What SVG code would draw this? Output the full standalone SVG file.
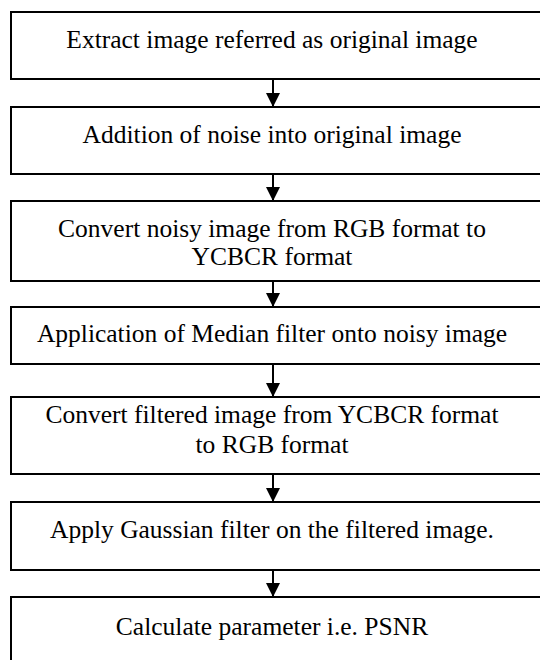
<svg xmlns="http://www.w3.org/2000/svg" width="540" height="660" viewBox="0 0 540 660">
  <style>
    .box { fill: #ffffff; stroke: #000000; stroke-width: 2; }
    .lbl { font-size: 25.5px; fill: #000000; text-anchor: middle; }
    .link { stroke: #000000; stroke-width: 2; fill: none; }
  </style>
  <defs>
    <marker id="head" markerUnits="userSpaceOnUse" markerWidth="14" markerHeight="16" refX="13" refY="7" orient="auto">
      <path d="M0,0 L14,7 L0,14 z" fill="#000000"/>
    </marker>
  </defs>
  <rect width="540" height="660" fill="#ffffff"/>

  <g font-family="Liberation Serif, Times New Roman, Times, serif">
    <g id="step1">
      <rect class="box" x="11" y="12" width="540" height="67"/>
      <text class="lbl" x="272" y="48">Extract image referred as original image</text>
    </g>
    <g id="step2">
      <rect class="box" x="11" y="107" width="540" height="67"/>
      <text class="lbl" x="272" y="143">Addition of noise into original image</text>
    </g>
    <g id="step3">
      <rect class="box" x="11" y="201" width="540" height="80"/>
      <text class="lbl" x="272" y="237">Convert noisy image from RGB format to</text>
      <text class="lbl" x="272" y="265">YCBCR format</text>
    </g>
    <g id="step4">
      <rect class="box" x="11" y="307" width="540" height="57"/>
      <text class="lbl" x="272" y="342">Application of Median filter onto noisy image</text>
    </g>
    <g id="step5">
      <rect class="box" x="11" y="397" width="540" height="77"/>
      <text class="lbl" x="272" y="423">Convert filtered image from YCBCR format</text>
      <text class="lbl" x="272" y="453">to RGB format</text>
    </g>
    <g id="step6">
      <rect class="box" x="11" y="502" width="540" height="68"/>
      <text class="lbl" x="272" y="538">Apply Gaussian filter on the filtered image.</text>
    </g>
    <g id="step7">
      <rect class="box" x="11" y="597" width="540" height="80"/>
      <text class="lbl" x="272" y="635">Calculate parameter i.e. PSNR</text>
    </g>
  </g>

  <g id="connectors">
    <line class="link" x1="273" y1="79" x2="273" y2="106" marker-end="url(#head)"/>
    <line class="link" x1="273" y1="174" x2="273" y2="200" marker-end="url(#head)"/>
    <line class="link" x1="273" y1="281" x2="273" y2="306" marker-end="url(#head)"/>
    <line class="link" x1="273" y1="364" x2="273" y2="396" marker-end="url(#head)"/>
    <line class="link" x1="273" y1="474" x2="273" y2="501" marker-end="url(#head)"/>
    <line class="link" x1="273" y1="570" x2="273" y2="596" marker-end="url(#head)"/>
  </g>
</svg>
